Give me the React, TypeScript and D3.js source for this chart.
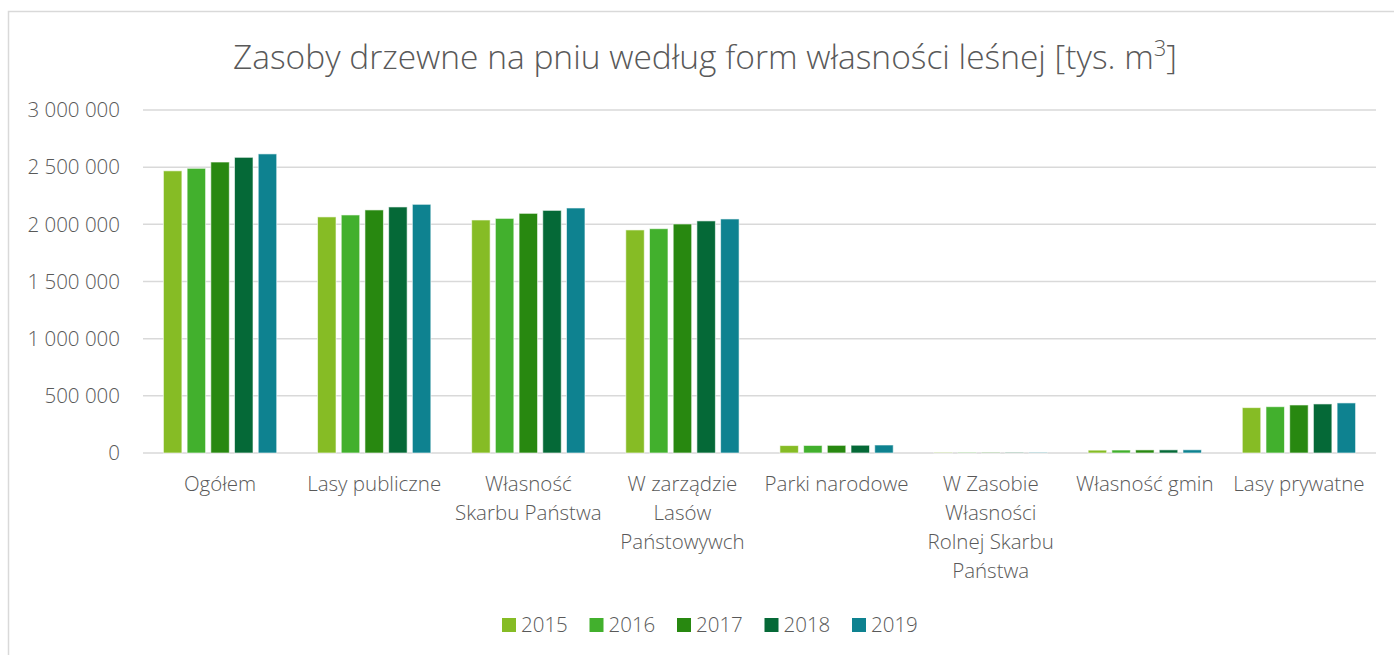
import React from "react";
import * as d3 from "d3";

const categories: string[] = [
  "Ogółem",
  "Lasy publiczne",
  "Własność\nSkarbu Państwa",
  "W zarządzie\nLasów\nPaństowywch",
  "Parki narodowe",
  "W Zasobie\nWłasności\nRolnej Skarbu\nPaństwa",
  "Własność gmin",
  "Lasy prywatne",
];

const years: string[] = ["2015", "2016", "2017", "2018", "2019"];

const v2015: number[] = [2468000, 2065000, 2038000, 1951000, 65000, 4000, 25000, 397000];
const v2016: number[] = [2490000, 2082000, 2052000, 1962000, 66000, 4000, 26000, 405000];
const v2017: number[] = [2545000, 2126000, 2096000, 2003000, 67000, 4000, 27000, 420000];
const v2018: number[] = [2586000, 2152000, 2122000, 2030000, 68000, 4000, 27500, 429000];
const v2019: number[] = [2616000, 2175000, 2143000, 2047000, 70000, 4000, 28000, 438000];

const series: number[][] = [v2015, v2016, v2017, v2018, v2019];
const colors: string[] = ["#86bc25", "#42b02d", "#288810", "#056937", "#0e8290"];
const yTicks: number[] = [0, 500000, 1000000, 1500000, 2000000, 2500000, 3000000];

const W = 1394;
const H = 655;
const FONT = "'Open Sans', 'Segoe UI', sans-serif";
const TXT = "#595959";
const FS = 20.5;

export default function App() {
  const left = 143;
  const right = 1376;
  const y = d3.scaleLinear().domain([0, 3000000]).range([453, 110]);
  const x0 = d3.scaleBand<string>().domain(categories).range([left, right]).paddingInner(0.231).paddingOuter(0.1155);
  const x1 = d3.scaleBand<string>().domain(years).range([0, x0.bandwidth()]).paddingInner(0.22).paddingOuter(0.11);
  const fmt = (v: number) => d3.format(",")(v).replace(/,/g, " ");

  return (
    <svg width={W} height={H} style={{ position: "absolute", left: 0, top: 0, display: "block", background: "#fff" }}>
      <rect x={8.5} y={11.5} width={W + 20} height={H + 20} fill="#fff" stroke="#d9d9d9" strokeWidth={1.5} />
      <text x={705} y={69} textAnchor="middle" fontFamily={FONT} fontWeight={300} fontSize={33.5} fill={TXT}>
        Zasoby drzewne na pniu według form własności leśnej [tys. m
        <tspan dy={-13} fontSize={22}>3</tspan>
        <tspan dy={13}>]</tspan>
      </text>
      {yTicks.map((t) => (
        <g key={t}>
          <line x1={left} x2={right} y1={y(t)} y2={y(t)} stroke="#d9d9d9" strokeWidth={1.5} />
          <text x={120} y={y(t)} dy="0.35em" textAnchor="end" fontFamily={FONT} fontWeight={300} fontSize={FS} fill={TXT}>
            {fmt(t)}
          </text>
        </g>
      ))}
      {categories.map((c, ci) => (
        <g key={c} transform={`translate(${x0(c)},0)`}>
          {years.map((yr, si) => {
            const v = series[si][ci];
            const top = y(v);
            return (
              <rect
                key={yr}
                x={x1(yr)}
                y={top}
                width={x1.bandwidth()}
                height={Math.max(0, y(0) - top)}
                fill={colors[si]}
                stroke="#ffffff"
                strokeOpacity={0.6}
                strokeWidth={1}
              />
            );
          })}
        </g>
      ))}
      {categories.map((c) => {
        const cx = (x0(c) as number) + x0.bandwidth() / 2;
        const lines = c.split("\n");
        return (
          <text key={c} textAnchor="middle" fontFamily={FONT} fontWeight={300} fontSize={FS} fill={TXT}>
            {lines.map((ln, i) => (
              <tspan key={i} x={cx} y={491 + i * 29}>
                {ln}
              </tspan>
            ))}
          </text>
        );
      })}
      {years.map((yr, i) => {
        const lx = 502 + i * 87.5;
        return (
          <g key={yr}>
            <rect x={lx} y={618} width={14} height={14} fill={colors[i]} />
            <text x={lx + 19} y={625} dy="0.35em" fontFamily={FONT} fontWeight={300} fontSize={FS} fill={TXT}>
              {yr}
            </text>
          </g>
        );
      })}
    </svg>
  );
}
